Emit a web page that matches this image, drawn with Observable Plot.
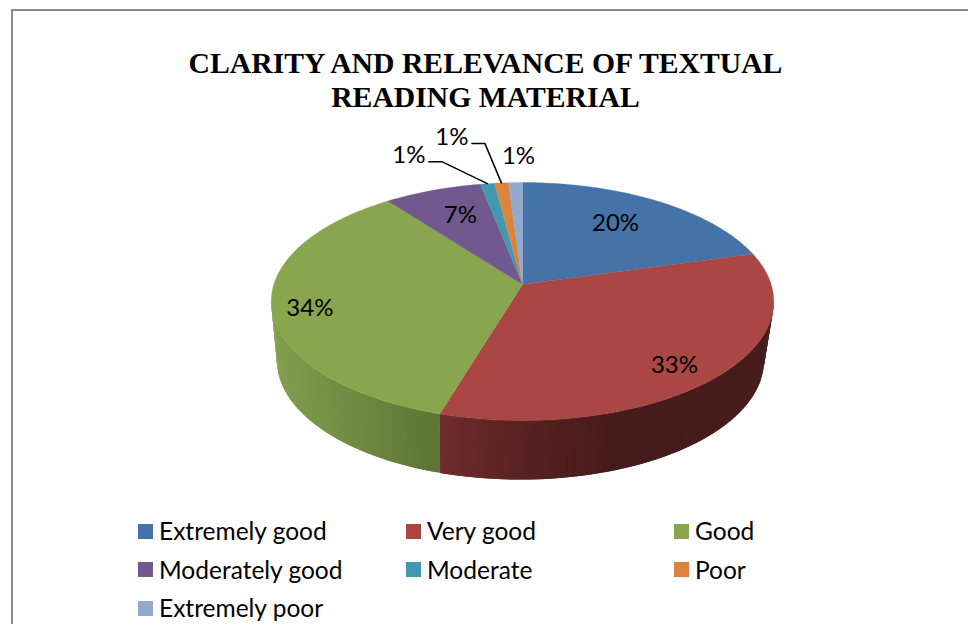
<!DOCTYPE html>
<html>
<head>
<meta charset="utf-8">
<script src="https://cdn.jsdelivr.net/npm/d3@7"></script>
<script src="https://cdn.jsdelivr.net/npm/@observablehq/plot@0.6"></script>
<style>
  html, body { margin: 0; padding: 0; background: #fff; }
  #page { position: relative; width: 968px; height: 624px; overflow: hidden; }
  #frame { position: absolute; left: 11px; top: 9px; width: 968px; height: 640px;
           border-left: 2px solid #8a8a8a; border-top: 2px solid #8a8a8a; }
  #title { position: relative; width: 971px; height: 120px; padding-top: 46px; box-sizing: border-box;
           font: bold 29.7px/34px "Liberation Serif", serif; text-align: center; color: #000; }
  #chart { position: relative; height: 390px; }
  #chart svg { display: block; background: transparent; }
  #legend { position: relative; display: grid; grid-template-columns: repeat(3, 268px);
            grid-auto-rows: 38.5px; margin: 2px 0 0 138px;
            font: 24.5px/38px Lato, sans-serif; color: #000; }
  #legend div { display: flex; align-items: center; white-space: nowrap; height: 38px; }
  #legend i { display: block; width: 15px; height: 15px; margin-right: 6px; }
</style>
</head>
<body>
<div id="page">
  <div id="frame"></div>
  <div id="title">CLARITY AND RELEVANCE OF TEXTUAL<br>READING MATERIAL</div>
  <div id="chart"></div>
  <div id="legend"></div>
</div>
<script>
const categories = ["Extremely good", "Very good", "Good", "Moderately good", "Moderate", "Poor", "Extremely poor"];
const shares = [20, 33, 34, 7, 1, 1, 1];
const sliceColors = ["#4572a7", "#aa4643", "#89a54e", "#71588f", "#4198af", "#db843d", "#93a9cf"];
const labels = ["20%", "33%", "34%", "7%", "1%", "1%", "1%"];

// Perspective of the tilted disc
const view = {cx: 522, cy: 284, rx: 248.7, ry: 116.6, k: 0.143, bottomCx: 520, bottomRx: 241, depth: 59};
// Label placement relative to each slice: radial reach, then a nudge
const labelPlace = [[0.69, -3, -2], [0.8, 0, 8], [0.85, 0, 6], [0.7, 3, -1], [1, -78.5, -28], [1, -49.5, -45.5], [1, 3, -26]];
const leaderFor = [4, 5];

const total = d3.sum(shares);
const toAngle = (v) => (v / total) * 2 * Math.PI;
let run = 0;
const slices = shares.map((v, i) => {
  const a0 = toAngle(run); run += v; const a1 = toAngle(run);
  return {i, a0, a1, mid: (a0 + a1) / 2};
});

function project(a, r = 1, bottom = false) {
  const X = r * Math.sin(a), Y = -r * Math.cos(a), s = 1 / (1 - view.k * Y);
  return bottom
    ? [view.bottomCx + view.bottomRx * X * s, view.cy + view.depth + view.ry * Y * s]
    : [view.cx + view.rx * X * s, view.cy + view.ry * Y * s];
}

// Top face polygons
const topFace = [];
for (const s of slices) {
  const n = Math.max(2, Math.ceil((s.a1 - s.a0) / (Math.PI / 180)));
  const pts = [[view.cx, view.cy]];
  for (let j = 0; j <= n; j++) pts.push(project(s.a0 + (s.a1 - s.a0) * j / n));
  pts.push([view.cx, view.cy]);
  for (const [x, y] of pts) topFace.push({x, y, z: s.i, color: sliceColors[s.i]});
}

// Shaded wall: strips along the front of the disc, each overlapping the next
// one so that no background shows through their seams
const wallTone = [
  d3.scaleLinear().domain([272, 441]).range(["#82a04f", "#5e7535"]),
  d3.scaleLinear().domain([441, 560, 620, 774]).range(["#6f2c2d", "#521e1e", "#451c1b", "#461d1c"])
];
const wall = [];
const wallStart = Math.acos(-view.k), wallEnd = 2 * Math.PI - wallStart;
const step = Math.PI / 180;
let zid = 0;
for (const s of slices.slice().sort((p, q) => q.i - p.i)) {
  const lo = Math.max(s.a0, wallStart), hi = Math.min(s.a1, wallEnd);
  if (hi <= lo) continue;
  const n = Math.ceil((hi - lo) / step);
  for (let j = n - 1; j >= 0; j--) {
    const a = lo + (hi - lo) * j / n, b = Math.min(hi, lo + (hi - lo) * (j + 2) / n);
    const pa = project(a), pb = project(b), qa = project(a, 1, true), qb = project(b, 1, true);
    const c = wallTone[s.i === 1 ? 1 : 0](pa[0]);
    const col = d3.color(c).formatHex();
    for (const [x, y] of [pa, pb, qb, qa, pa]) wall.push({x, y, z: zid, color: col});
    zid++;
  }
}

// Percentage labels
const labelRows = slices.map((s) => {
  const [r, dx, dy] = labelPlace[s.i];
  const [x, y] = project(s.mid, r);
  return {x: x + dx, y: y + dy, text: labels[s.i]};
});

// Leader lines of the two outside labels
const leaders = leaderFor.flatMap((i) => {
  const l = labelRows[i], end = project(slices[i].mid);
  return [[l.x + 20, l.y + 6], [l.x + 33, l.y + 6], end].map(([x, y]) => ({x, y, z: i}));
});

const chart = Plot.plot({
  width: 968, height: 390,
  marginTop: 0, marginRight: 0, marginBottom: 0, marginLeft: 0,
  x: {domain: [0, 968], range: [0, 968], axis: null},
  y: {domain: [120, 510], range: [0, 390], axis: null},
  color: {type: "identity"},
  style: {background: "transparent"},
  marks: [
    Plot.line(wall, {x: "x", y: "y", z: "z", fill: "color", stroke: "none"}),
    Plot.line(topFace, {x: "x", y: "y", z: "z", fill: "color", stroke: "color", strokeWidth: 0.3}),
    Plot.line(leaders, {x: "x", y: "y", z: "z", stroke: "#000", strokeWidth: 1.5, strokeLinejoin: "miter"}),
    Plot.text(labelRows, {x: "x", y: "y", text: "text", fontSize: 24, fontFamily: "Lato, sans-serif", fill: "#000", textAnchor: "middle", lineAnchor: "middle"})
  ]
});
document.getElementById("chart").append(chart);

const legend = document.getElementById("legend");
categories.forEach((c, i) => {
  const row = document.createElement("div");
  const sw = document.createElement("i");
  sw.style.background = sliceColors[i];
  row.append(sw, document.createTextNode(c));
  legend.append(row);
});
</script>
</body>
</html>
